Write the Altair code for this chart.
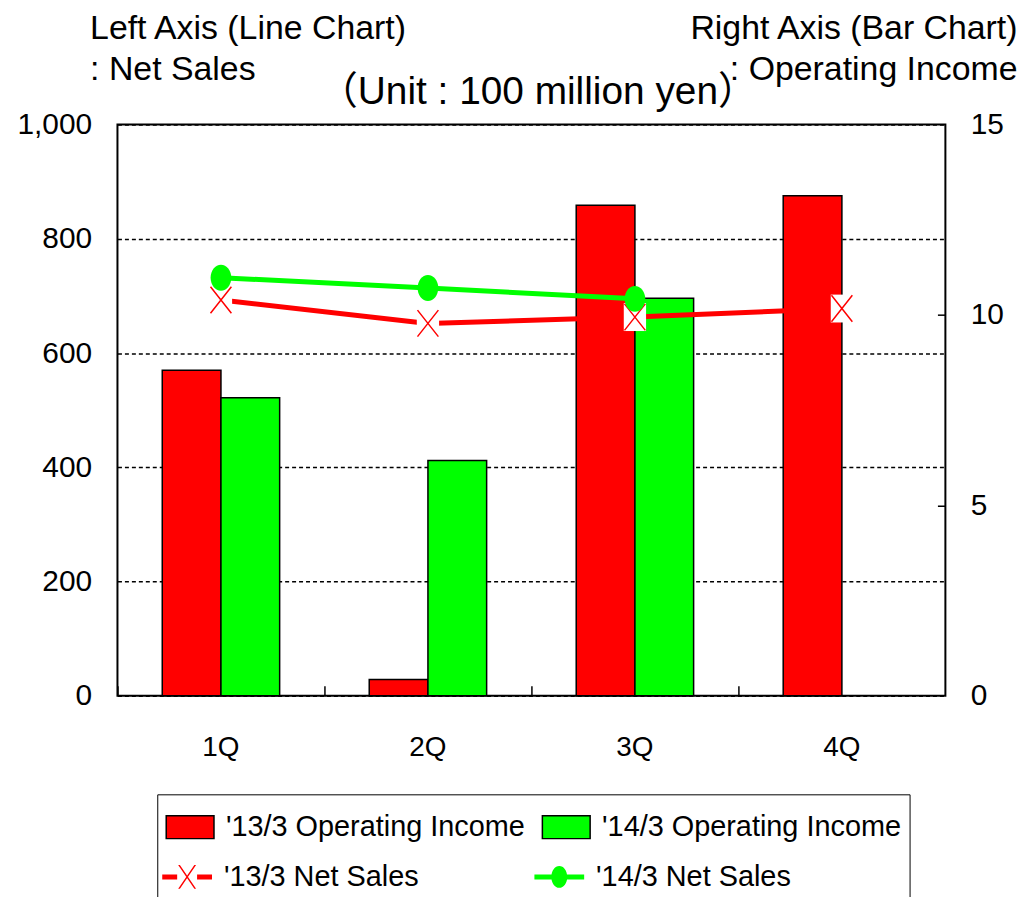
import altair as alt
import pandas as pd

quarters = ["1Q", "2Q", "3Q", "4Q"]
bar_series = ["'13/3 Operating Income", "'14/3 Operating Income"]
line_series = ["'13/3 Net Sales", "'14/3 Net Sales"]
op_income_13 = [8.55, 0.43, 12.88, 13.13]
op_income_14 = [7.83, 6.18, 10.44, None]
net_sales_13 = [693, 652, 663, 678]
net_sales_14 = [732, 714, 695, None]
left_ticks = [0, 200, 400, 600, 800, 1000]
right_ticks = [0, 5, 10, 15]

RED = "#FF0000"
GREEN = "#00FF00"
FONT = "Liberation Sans"
W, H = 832, 574

def long(values, name):
    return [{"quarter": q, "series": name, "value": v} for q, v in zip(quarters, values) if v is not None]

bars_df = pd.DataFrame(long(op_income_13, bar_series[0]) + long(op_income_14, bar_series[1]))
ns13_df = pd.DataFrame(long(net_sales_13, line_series[0]))
ns14_df = pd.DataFrame(long(net_sales_14, line_series[1]))

xscale = alt.Scale(domain=quarters, paddingInner=0, paddingOuter=0)

# ---- bars (right axis) ----
bar_legend = alt.Legend(
    title=" ", titleOrient="bottom", titleFontSize=40, titlePadding=20,
    orient="none", legendX=40, legendY=673, direction="horizontal", columns=2,
    columnPadding=14, symbolType="M-1,-0.48H1V0.48H-1Z", symbolSize=2304,
    symbolStrokeColor="black", symbolStrokeWidth=1.5, labelFontSize=29,
    labelFont=FONT, labelOffset=11, labelLimit=500, labelColor="black",
    strokeColor="black", padding=8, rowPadding=0,
)
bars = alt.Chart(bars_df).mark_bar(stroke="black", strokeWidth=1.5).encode(
    x=alt.X("quarter:N", scale=xscale, axis=alt.Axis(
        title=None, orient="bottom", ticks=False, tickSize=0, domain=False,
        labelFontSize=28, labelPadding=38, labelColor="black", labelAngle=0, grid=False)),
    xOffset=alt.XOffset("series:N", scale=alt.Scale(domain=bar_series, paddingInner=0, paddingOuter=0.763)),
    y=alt.Y("value:Q", scale=alt.Scale(domain=[0, 15], nice=False), axis=alt.Axis(
        orient="right", values=right_ticks, ticks=False, tickSize=0, domain=False, grid=False,
        labelFontSize=30, labelPadding=25, labelColor="black",
        title=["Right Axis (Bar Chart)", ": Operating Income"], titleAngle=0,
        titleAlign="right", titleBaseline="alphabetic", titleX=72, titleY=-87,
        titleFontSize=34, titleFontWeight="normal", titleLineHeight=42, titleColor="black")),
    color=alt.Color("series:N", scale=alt.Scale(domain=bar_series, range=[RED, GREEN]), legend=bar_legend),
)

# ---- lines (left axis) ----
x_none = alt.X("quarter:N", scale=xscale, axis=None)
y_left = alt.Y("value:Q", scale=alt.Scale(domain=[0, 1000], nice=False), axis=alt.Axis(
    orient="left", values=left_ticks, format=",d", ticks=False, tickSize=0, domain=False,
    grid=True, gridDash=[4, 3], gridColor="black", gridWidth=1.5, gridOpacity=1,
    labelFontSize=30, labelPadding=26, labelColor="black",
    title=["Left Axis (Line Chart)", ": Net Sales"], titleAngle=0, titleAlign="left",
    titleBaseline="alphabetic", titleX=-28, titleY=-87, titleFontSize=34,
    titleFontWeight="normal", titleLineHeight=42, titleColor="black"))

red_line = alt.Chart(ns13_df).mark_line(color=RED, strokeWidth=5).encode(x=x_none, y=y_left)
green_line = alt.Chart(ns14_df).mark_line(color=GREEN, strokeWidth=5).encode(x=x_none, y=y_left)
red_box = alt.Chart(ns13_df).mark_point(
    shape="M-0.8,-1H0.8V1H-0.8Z", filled=True, fill="white", strokeWidth=0, size=784, opacity=1
).encode(x=x_none, y=y_left)
red_x = alt.Chart(ns13_df).mark_point(
    shape="M-0.75,-0.95L0.75,0.95M-0.75,0.95L0.75,-0.95", filled=False, stroke=RED,
    strokeWidth=1.5, size=784, opacity=1
).encode(x=x_none, y=y_left)
green_dot = alt.Chart(ns14_df).mark_point(
    shape="M0,-1A0.8,1 0 1,1 0,1A0.8,1 0 1,1 0,-1Z", filled=True, color=GREEN,
    strokeWidth=0, size=676, opacity=1
).encode(x=x_none, y=y_left)
lines = alt.layer(red_line, green_line, red_box, red_x, green_dot)

# ---- inner ticks + unit caption ----
tick_layer = alt.Chart(bars_df).mark_point(opacity=0).encode(
    x=alt.X("quarter:N", scale=xscale, axis=alt.Axis(
        orient="top", offset=-H, bandPosition=0, ticks=True, tickSize=10, tickWidth=1.5,
        tickColor="black", labels=False, domain=False, grid=False, title=None)),
    y=alt.Y("value:Q", scale=alt.Scale(domain=[0, 15], nice=False), axis=alt.Axis(
        orient="left", offset=-W, values=[5, 10], ticks=True, tickSize=8, tickWidth=1.5,
        tickColor="black", labels=False, domain=False, grid=False,
        title="（Unit : 100 million yen）", titleAngle=0, titleAlign="center",
        titleBaseline="alphabetic", titleX=-410, titleY=-21, titleFontSize=39,
        titleFont=FONT + ", Noto Sans CJK JP", titleFontWeight="normal", titleColor="black")),
)

# ---- legend entries for the line series ----
red_sym = ("M-1,-0.1H-0.4V0.1H-1Z M0.4,-0.1H1V0.1H0.4Z "
           "M-0.36,-0.48L-0.29,-0.48L0.36,0.48L0.29,0.48Z M0.29,-0.48L0.36,-0.48L-0.29,0.48L-0.36,0.48Z")
green_sym = "M-1,-0.1H1V0.1H-1Z M0,-0.44A0.32,0.44 0 1,1 0,0.44A0.32,0.44 0 1,1 0,-0.44Z"

def line_legend_layer(df, name, colour, sym, lx):
    leg = alt.Legend(
        title=None, orient="none", legendX=lx, legendY=731, symbolType=sym, symbolSize=2500,
        symbolStrokeWidth=0, symbolOpacity=1, symbolFillColor=colour,
        labelFontSize=29, labelFont=FONT, labelOffset=12, labelLimit=500,
        labelColor="black", padding=0,
    )
    return alt.Chart(df).transform_filter("false").mark_point(filled=True, opacity=1).encode(
        x=x_none,
        y=alt.Y("value:Q", scale=alt.Scale(domain=[0, 1000]), axis=None),
        color=alt.Color("series:N", scale=alt.Scale(domain=[name], range=[colour]), legend=leg),
    )

leg13 = line_legend_layer(ns13_df, line_series[0], RED, red_sym, 45)
leg14 = line_legend_layer(ns14_df, line_series[1], GREEN, green_sym, 419)

chart = alt.layer(bars, lines, tick_layer, leg13, leg14).resolve_scale(
    y="independent", color="independent"
).resolve_axis(x="independent").properties(
    width=W, height=H,
    autosize=alt.AutoSizeParams(type="none"),
    padding={"left": 110, "top": 115, "right": 80, "bottom": 200},
).configure(font=FONT).configure_view(stroke="black", strokeWidth=2)

chart.save("out.html", embed_options={"renderer": "svg", "actions": False})
